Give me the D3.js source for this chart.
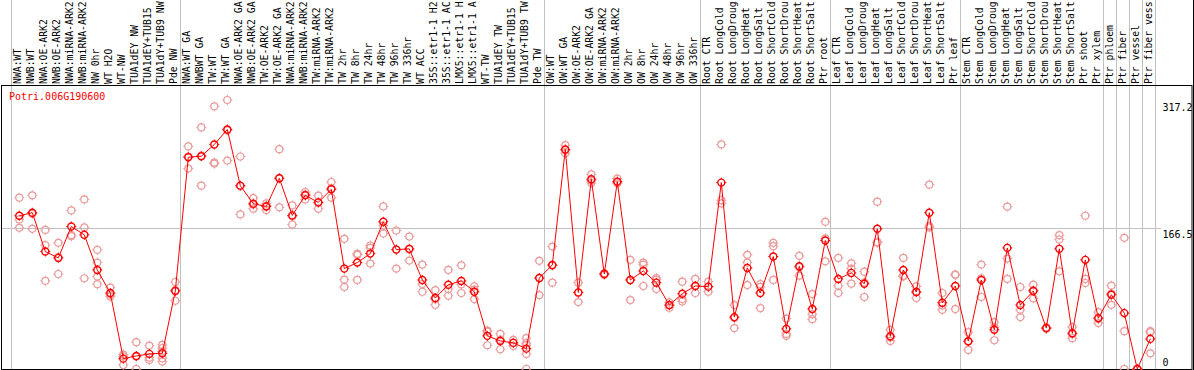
<!DOCTYPE html>
<html>
<head>
<meta charset="utf-8">
<script src="https://cdn.jsdelivr.net/npm/d3@7"></script>
<style>
  html, body { margin: 0; padding: 0; background: #fff; }
  svg { display: block; }
</style>
</head>
<body>
<svg id="chart"></svg>
<script>
// sample labels, left to right (as printed: cut to 14 characters)
const labels = [
  "NWA:WT", "NWB:WT", "NWA:OE-ARK2", "NWB:OE-ARK2", "NWA:miRNA-ARK2", "NWB:miRNA-ARK2",
  "NW 0hr", "WT H2O", "WT-NW", "TUA1dEY NW", "TUA1dEY+TUB15", "TUA1dY+TUB9 NW", "Pde NW",
  "NWA:WT GA", "NWBWT GA", "TW:WT", "TW:WT GA", "NWA:OE-ARK2 GA", "NWB:OE-ARK2 GA",
  "TW:OE-ARK2", "TW:OE-ARK2 GA", "NWA:miRNA-ARK2", "NWB:miRNA-ARK2", "TW:miRNA-ARK2",
  "TW:miRNA-ARK2", "TW 2hr", "TW 8hr", "TW 24hr", "TW 48hr", "TW 96hr", "TW 336hr",
  "WT ACC", "35S::etr1-1 H2", "35S::etr1-1 AC", "LMX5::etr1-1 H", "LMX5::etr1-1 A",
  "WT-TW", "TUA1dEY TW", "TUA1dEY+TUB15", "TUA1dY+TUB9 TW", "Pde TW",
  "OW:WT", "OW:WT GA", "OW:OE-ARK2", "OW:OE-ARK2 GA", "OW:miRNA-ARK2", "OW:miRNA-ARK2",
  "OW 2hr", "OW 8hr", "OW 24hr", "OW 48hr", "OW 96hr", "OW 336hr",
  "Root CTR", "Root LongCold", "Root LongDroug", "Root LongHeat", "Root LongSalt",
  "Root ShortCold", "Root ShortDrou", "Root ShortHeat", "Root ShortSalt", "Ptr root",
  "Leaf CTR", "Leaf LongCold", "Leaf LongDroug", "Leaf LongHeat", "Leaf LongSalt",
  "Leaf ShortCold", "Leaf ShortDrou", "Leaf ShortHeat", "Leaf ShortSalt", "Ptr leaf",
  "Stem CTR", "Stem LongCold", "Stem LongDroug", "Stem LongHeat", "Stem LongSalt",
  "Stem ShortCold", "Stem ShortDrou", "Stem ShortHeat", "Stem ShortSalt", "Ptr shoot",
  "Ptr xylem", "Ptr phloem", "Ptr fiber", "Ptr vessel", "Ptr fiber vess"
];

// mean expression per sample
const means = [
  180.7, 184.3, 138.5, 131.0, 168.0, 158.2, 116.8, 89.6, 12.2, 15.4, 17.8, 18.5, 92.0,
  249.7, 250.9, 264.7, 282.5, 216.2, 194.9, 191.7, 224.9, 181.1, 204.8, 196.5, 211.9,
  118.4, 125.5, 136.1, 173.6, 140.8, 141.7, 105.0, 83.7, 99.4, 103.8, 91.1,
  39.1, 33.1, 30.8, 24.0, 107.3,
  122.7, 258.8, 90.3, 223.7, 112.0, 221.0, 105.0, 115.6, 101.8, 75.4, 88.8, 97.9,
  97.1, 219.8, 61.2, 119.2, 89.6, 132.6, 47.3, 121.1, 70.7, 151.5,
  106.2, 113.3, 100.6, 165.3, 38.7, 116.8, 90.8, 184.3, 78.1, 97.9,
  32.8, 105.0, 46.2, 142.8, 75.4, 92.0, 48.2, 141.7, 42.2, 128.7, 60.0,
  87.6, 65.9, 0.0, 35.5
];

// individual replicates per sample
const reps = [
  [202, 176.4, 166.5], [204.8, 183, 165.3], [164, 146, 104], [148.8, 132, 112],
  [187, 158, 156.6], [200, 167, 107], [140.5, 125.5, 109, 100], [96, 87.6, 85.6],
  [17, 14.9, 4.7], [31.6, 14.6, 0], [27.6, 13.4, 10.6], [28.4, 24.5, 20.5, 12.7, 8.7],
  [102.6, 93, 80.5],
  [262.4, 250.5, 236.3], [284.9, 251.6, 216.2], [309.7, 243.4, 242.2], [317.2, 281.3, 245.8],
  [250.6, 215.7, 182.3], [201.6, 194, 189], [195.3, 192.4, 187.4], [259.2, 225, 190.6],
  [192.9, 180, 170.4], [208.7, 205.7, 200], [204.4, 196, 189], [220.5, 213, 202],
  [153.5, 105.3, 96.7], [135.8, 134.6, 105], [145.6, 142.8, 124.3], [191.7, 169, 159.8],
  [163.3, 140.8, 118.4], [156.2, 141, 127.8], [123.1, 100.2, 91.1], [93.1, 82, 75.7],
  [116.8, 94.3, 86.4], [122.3, 99.8, 89.6], [97.4, 93.5, 82.5],
  [45.3, 44, 28], [41.4, 34.6, 23.3], [34.3, 31, 27.2], [36.3, 30.4, 28, 17.8, 0],
  [127.5, 107, 87.2],
  [144.4, 122, 101.8], [263.9, 258, 254.5], [101.8, 90, 78.9], [229.6, 222, 219.3],
  [113, 112, 111], [224.5, 220, 219], [128.7, 105, 81.3], [125.5, 123, 97.9],
  [107.3, 105.3, 94.3], [78.5, 75, 72.2], [103, 82.5, 79.7], [106.2, 98, 89.6],
  [103, 97, 91.1], [264.8, 199, 195.3], [75.4, 60, 48.2], [134.6, 125.5, 99],
  [100.2, 96.8, 71.8], [148.8, 144.8, 105], [59.5, 41.4, 39.1], [133.4, 120, 110.1],
  [88.4, 64.7, 58.8], [173.6, 154, 127],
  [131, 98.2, 89.6], [124.6, 118.4, 100.6], [114.8, 102, 84.9], [197.3, 149.5, 149],
  [46.2, 37, 33.1], [131, 110, 109.2], [97.4, 91, 83.7], [217.4, 168.4, 167],
  [89.6, 75, 69.8], [111.3, 111, 70.7],
  [43.4, 32.5, 22.5], [123.1, 107, 84.9], [55.2, 49, 33.9], [191.4, 130.2, 106.2],
  [96.7, 69.8, 61.2], [99.4, 93, 83.2], [49, 48, 47.5], [157.8, 152.7, 115.2],
  [49.4, 41, 36.3], [180.7, 106.2, 101.4], [67.1, 59, 54.1],
  [98.2, 89, 75.7], [154.7, 44.6, 0], [0, 0, 0], [44.6, 43.4, 18.5]
];

// last sample index of each group (-1 marks the left edge)
const groupEnds = [-1, 12, 40, 52, 62, 72, 83, 84, 85, 86, 87];
const yTicks = [317.2, 166.5, 0];
const gridValues = [166.5];
const geneId = "Potri.006G190600";

const width = 1194, height = 370;
const plotTop = 85, plotBottom = 369;
const mono = "'DejaVu Sans Mono', 'Liberation Mono', monospace";

const svg = d3.select("#chart")
    .attr("width", width)
    .attr("height", height)
    .style("background", "#fff");

const x = d3.scaleLinear()
    .domain([0, labels.length - 1])
    .range([19.3, 1150.3]);

const y = d3.scaleLinear()
    .domain([0, 317.2])
    .range([plotBottom, 100]);

// group separators, full height
svg.append("g")
  .selectAll("line")
  .data(groupEnds)
  .join("line")
    .attr("x1", d => Math.round(x(d) + 5) + 0.5)
    .attr("x2", d => Math.round(x(d) + 5) + 0.5)
    .attr("y1", 0)
    .attr("y2", plotBottom)
    .style("stroke", "#c0c0c0")
    .style("stroke-width", 1);

// horizontal grid
svg.append("g")
  .selectAll("line")
  .data(gridValues)
  .join("line")
    .attr("x1", 1)
    .attr("x2", 1161)
    .attr("y1", d => Math.round(y(d)) + 0.5)
    .attr("y2", d => Math.round(y(d)) + 0.5)
    .style("stroke", "#c0c0c0")
    .style("stroke-width", 1);

// frame
svg.append("rect")
    .attr("x", 1.5)
    .attr("y", plotTop + 0.5)
    .attr("width", 1192 - 1.5)
    .attr("height", plotBottom - plotTop)
    .style("fill", "none")
    .style("stroke", "#000")
    .style("stroke-width", 1);
svg.append("line")
    .attr("x1", 1193.5).attr("x2", 1193.5)
    .attr("y1", 0).attr("y2", height)
    .style("stroke", "#000");

// sample labels, rotated
svg.append("g")
  .selectAll("text")
  .data(labels)
  .join("text")
    .attr("transform", (d, i) => `translate(${x(i) + 1.5},84) rotate(-90)`)
    .text(d => d)
    .style("font-family", mono)
    .style("font-size", "9.8px")
    .style("fill", "#000");

// y tick labels on the right
svg.append("g")
  .selectAll("text")
  .data(yTicks)
  .join("text")
    .attr("x", 1162.5)
    .attr("y", d => Math.min(y(d) + 10.5, 366))
    .text(d => d)
    .style("font-family", mono)
    .style("font-size", "10px")
    .style("fill", "#000");

// gene id
svg.append("text")
    .attr("x", 9)
    .attr("y", 100)
    .text(geneId)
    .style("font-family", mono)
    .style("font-size", "10px")
    .style("fill", "#ff0000");

function marker(g, color, width) {
  const r = 3.5;
  g.append("circle")
      .attr("r", r)
      .style("fill", "none")
      .style("stroke", color)
      .style("stroke-width", width);
  // little ticks round the ring, like the original bitmap markers
  [[0, -1], [0, 1], [-1, 0], [1, 0]].forEach(([dx, dy]) => {
    g.append("line")
        .attr("x1", dx * r).attr("y1", dy * r)
        .attr("x2", dx * (r + 1.5)).attr("y2", dy * (r + 1.5))
        .style("stroke", color)
        .style("stroke-width", 1);
  });
}

// replicates
const repPoints = reps.flatMap((vals, i) => vals.map(v => ({i, v})));
svg.append("g")
  .selectAll("g")
  .data(repPoints)
  .join("g")
    .attr("transform", d => `translate(${x(d.i)},${y(d.v)})`)
    .each(function() { marker(d3.select(this), "#eb9a9a", 1.2); });

// mean line
const line = d3.line()
    .x((d, i) => x(i))
    .y(d => y(d));
svg.append("path")
    .datum(means)
    .attr("d", line)
    .style("fill", "none")
    .style("stroke", "#ff0000")
    .style("stroke-width", 1);

// means
svg.append("g")
  .selectAll("g")
  .data(means)
  .join("g")
    .attr("transform", (d, i) => `translate(${x(i)},${y(d)})`)
    .each(function() { marker(d3.select(this), "#ff0000", 1.4); });
</script>
</body>
</html>
